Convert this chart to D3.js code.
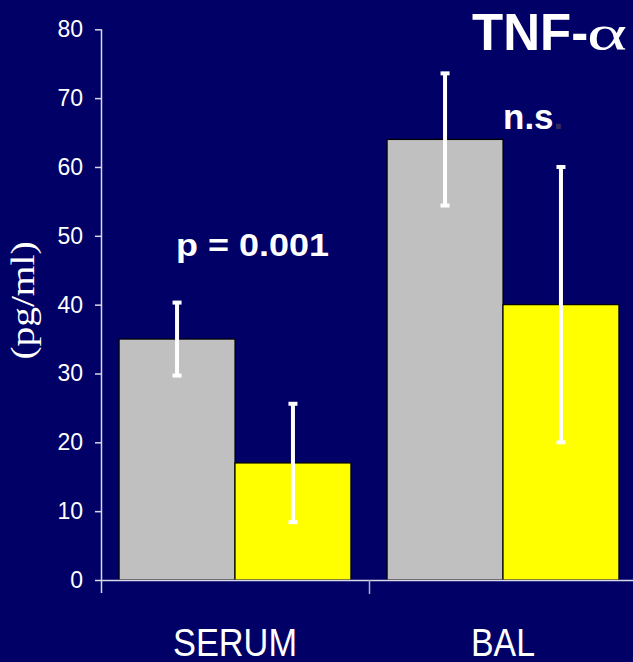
<!DOCTYPE html>
<html>
<head>
<meta charset="utf-8">
<script src="https://cdn.jsdelivr.net/npm/d3@7"></script>
<style>
  html, body { margin: 0; padding: 0; background: #000066; }
  svg { display: block; }
</style>
</head>
<body>
<script>
// TNF-alpha concentrations (pg/ml), mean and error half-width per sample type
const categories = ["SERUM", "BAL"];
const seriesNames = ["groupA", "groupB"];
const groupAValues = [35, 64];
const groupAErrors = [5.3, 9.6];
const groupBValues = [17, 40];
const groupBErrors = [8.6, 20];
const yTicks = [0, 10, 20, 30, 40, 50, 60, 70, 80];
const annotations = [
  { category: "SERUM", text: "p = 0.001" },
  { category: "BAL", text: "n.s" }
];

const W = 633, H = 662;
const svg = d3.select("body").append("svg").attr("width", W).attr("height", H);
svg.append("rect").attr("width", W).attr("height", H).attr("fill", "#000066");

const y = d3.scaleLinear().domain([0, 80]).range([580, 29.3]);
const x0 = d3.scaleBand().domain(categories).range([101, 637])
  .paddingInner(0.135).paddingOuter(0.0675);
const x1 = d3.scaleBand().domain(seriesNames).range([0, x0.bandwidth()]);
const colors = { groupA: "#c0c0c0", groupB: "#ffff00" };

const rows = categories.map((c, i) => ({
  category: c,
  bars: [
    { key: "groupA", value: groupAValues[i], err: groupAErrors[i] },
    { key: "groupB", value: groupBValues[i], err: groupBErrors[i] }
  ]
}));

const axisColor = "#d8d8e8";

// y axis
const yAxis = svg.append("g").attr("transform", "translate(101,0)")
  .call(d3.axisLeft(y).tickValues(yTicks).tickSize(6).tickPadding(12));
yAxis.select(".domain").remove();
yAxis.selectAll(".tick line").attr("stroke", axisColor).attr("stroke-width", 1.5);
yAxis.selectAll(".tick text").attr("fill", "#ffffff")
  .attr("font-family", "Liberation Sans, Arial, sans-serif").attr("font-size", 23);
svg.append("line").attr("x1", 101.5).attr("x2", 101.5).attr("y1", y(80)).attr("y2", 593)
  .attr("stroke", axisColor).attr("stroke-width", 1.5);

// bars
const groups = svg.selectAll("g.cat").data(rows).join("g")
  .attr("class", "cat").attr("transform", d => `translate(${x0(d.category)},0)`);
groups.selectAll("rect").data(d => d.bars).join("rect")
  .attr("x", d => x1(d.key)).attr("width", x1.bandwidth())
  .attr("y", d => y(d.value)).attr("height", d => y(0) - y(d.value))
  .attr("fill", d => colors[d.key]).attr("stroke", "#000").attr("stroke-width", 1.2);

// error bars
const eb = groups.selectAll("g.err").data(d => d.bars).join("g").attr("class", "err")
  .attr("transform", d => `translate(${x1(d.key) + x1.bandwidth() / 2},0)`);
eb.append("line").attr("y1", d => y(d.value + d.err)).attr("y2", d => y(d.value - d.err))
  .attr("stroke", "#fff").attr("stroke-width", 4);
eb.append("rect").attr("x", -4.5).attr("width", 9).attr("height", 4)
  .attr("y", d => y(d.value + d.err) - 2).attr("fill", "#fff");
eb.append("rect").attr("x", -4.5).attr("width", 9).attr("height", 4)
  .attr("y", d => y(d.value - d.err) - 2).attr("fill", "#fff");

// x axis line and band-boundary ticks
svg.append("line").attr("x1", 101).attr("x2", W).attr("y1", 580.5).attr("y2", 580.5)
  .attr("stroke", axisColor).attr("stroke-width", 1.5);
const bounds = [101, 101 + x0.step(), 101 + 2 * x0.step()];
svg.selectAll("line.xt").data(bounds.slice(1)).join("line").attr("class", "xt")
  .attr("x1", d => d + 0.5).attr("x2", d => d + 0.5).attr("y1", 580).attr("y2", 594)
  .attr("stroke", "#aab0d0").attr("stroke-width", 1.5);

// category labels
const catWidths = { SERUM: 124, BAL: 64 };
svg.selectAll("text.cat").data(categories).join("text").attr("class", "cat")
  .attr("x", d => x0(d) + x0.bandwidth() / 2).attr("y", 655.5)
  .attr("text-anchor", "middle").attr("fill", "#fff")
  .attr("font-family", "Liberation Sans, Arial, sans-serif").attr("font-size", 39)
  .attr("textLength", d => catWidths[d]).attr("lengthAdjust", "spacingAndGlyphs")
  .text(d => d);

// y axis title
svg.append("text").attr("transform", "translate(33.5,300.5) rotate(-90)")
  .attr("text-anchor", "middle").attr("fill", "#fff")
  .attr("font-family", "Liberation Serif, Times New Roman, serif").attr("font-size", 33)
  .attr("textLength", 118).attr("lengthAdjust", "spacingAndGlyphs")
  .text("(pg/ml)");

// significance annotations
svg.append("text").attr("x", 176).attr("y", 256).attr("fill", "#fff")
  .attr("font-family", "Liberation Sans, Arial, sans-serif").attr("font-weight", "bold")
  .attr("font-size", 32).attr("textLength", 153).attr("lengthAdjust", "spacingAndGlyphs")
  .text(annotations[0].text);
const ns = svg.append("text").attr("x", 503).attr("y", 128.5)
  .attr("font-family", "Liberation Sans, Arial, sans-serif").attr("font-weight", "bold")
  .attr("font-size", 35);
ns.append("tspan").attr("fill", "#fff").text(annotations[1].text);
ns.append("tspan").attr("fill", "#33285a").text(".");

// title
svg.append("text").attr("x", 472).attr("y", 50).attr("fill", "#fff")
  .attr("font-family", "Liberation Sans, Arial, sans-serif").attr("font-weight", "bold")
  .attr("font-size", 51).text("TNF-");
svg.append("text").attr("x", 587).attr("y", 50).attr("fill", "#fff")
  .attr("font-family", "Liberation Serif, Times New Roman, serif")
  .attr("font-size", 50).attr("textLength", 40).attr("lengthAdjust", "spacingAndGlyphs")
  .text("α");
</script>
</body>
</html>
